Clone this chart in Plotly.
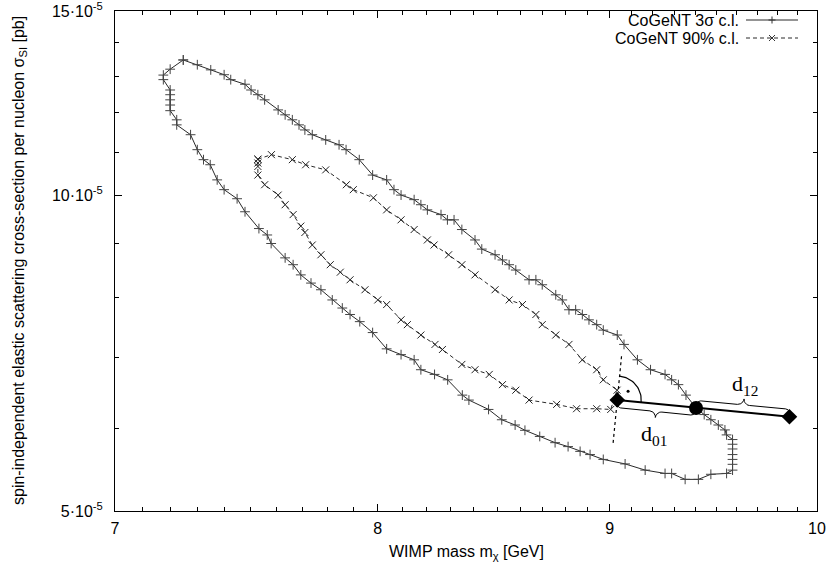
import numpy as np
import plotly.graph_objects as go

# ---------------- data (mass in GeV, sigma in units of 1e-5 pb) ----------------
mass_3sigma = [7.247, 7.299, 7.349, 7.399, 7.424, 7.478, 7.501, 7.527, 7.553, 7.605,
               7.632, 7.660, 7.686, 7.709, 7.738, 7.791, 7.844, 7.872, 7.925, 7.979,
               8.036, 8.066, 8.095, 8.149, 8.177, 8.204, 8.261, 8.288, 8.316, 8.349,
               8.405, 8.434, 8.491, 8.523, 8.552, 8.581, 8.639, 8.669, 8.697, 8.757,
               8.786, 8.816, 8.846, 8.876, 8.906, 8.941, 8.971, 9.035, 9.066, 9.128,
               9.189, 9.257, 9.288, 9.320, 9.356, 9.404, 9.443, 9.475, 9.511, 9.543,
               9.551, 9.580, 9.580, 9.580, 9.580, 9.580, 9.580, 9.580, 9.551, 9.475,
               9.415, 9.352, 9.288, 9.257, 9.164, 9.071, 8.971, 8.911, 8.866, 8.812,
               8.754, 8.686, 8.621, 8.578, 8.520, 8.463, 8.379, 8.351, 8.289, 8.234,
               8.177, 8.149, 8.095, 8.036, 7.979, 7.927, 7.888, 7.857, 7.817, 7.772,
               7.733, 7.693, 7.663, 7.632, 7.578, 7.563, 7.531, 7.478, 7.448, 7.399,
               7.373, 7.347, 7.322, 7.299, 7.274, 7.223, 7.223, 7.199, 7.199, 7.199,
               7.199, 7.199, 7.174, 7.174, 7.199, 7.247]
sigma_3sigma = [13.47, 13.33, 13.18, 13.04, 12.90, 12.77, 12.61, 12.48, 12.34, 12.07,
                11.94, 11.81, 11.68, 11.55, 11.43, 11.30, 11.18, 11.06, 10.82, 10.46,
                10.35, 10.13, 10.01, 9.91, 9.80, 9.69, 9.59, 9.48, 9.48, 9.28,
                9.07, 8.89, 8.78, 8.68, 8.59, 8.49, 8.31, 8.31, 8.22, 8.04,
                7.95, 7.78, 7.78, 7.70, 7.61, 7.53, 7.44, 7.36, 7.21, 6.97,
                6.82, 6.75, 6.67, 6.60, 6.45, 6.27, 6.18, 6.11, 6.04, 5.975,
                5.91, 5.85, 5.79, 5.73, 5.66, 5.60, 5.54, 5.47, 5.43, 5.42,
                5.36, 5.36, 5.43, 5.43, 5.47, 5.545, 5.60, 5.66, 5.70, 5.76,
                5.81, 5.89, 5.97, 6.04, 6.11, 6.25, 6.38, 6.45, 6.67, 6.75,
                6.82, 6.97, 7.05, 7.14, 7.40, 7.58, 7.70, 7.81, 7.95, 8.13,
                8.25, 8.40, 8.59, 8.72, 9.00, 9.17, 9.30, 9.65, 9.93, 10.13,
                10.35, 10.70, 10.82, 11.06, 11.43, 11.68, 11.81, 12.05, 12.20, 12.34,
                12.48, 12.61, 12.90, 13.03, 13.20, 13.47]

mass_90 = [7.527, 7.579, 7.660, 7.712, 7.791, 7.873, 7.901, 7.982, 8.036, 8.095,
           8.149, 8.204, 8.232, 8.293, 8.349, 8.405, 8.491, 8.552, 8.610, 8.669,
           8.697, 8.757, 8.816, 8.876, 8.941, 8.971, 9.034, 9.005, 8.941, 8.850,
           8.761, 8.639, 8.581, 8.523, 8.466, 8.405, 8.349, 8.267, 8.236, 8.177,
           8.121, 8.095, 8.036, 8.000, 7.948, 7.888, 7.849, 7.809, 7.772, 7.738,
           7.709, 7.693, 7.663, 7.632, 7.605, 7.553, 7.527, 7.527, 7.527, 7.527]
sigma_90 = [10.83, 10.94, 10.82, 10.70, 10.58, 10.24, 10.13, 9.95, 9.69, 9.48,
            9.28, 9.07, 8.97, 8.78, 8.59, 8.40, 8.13, 7.95, 7.87, 7.70,
            7.53, 7.36, 7.21, 6.97, 6.82, 6.67, 6.52, 6.25, 6.26, 6.26,
            6.32, 6.38, 6.52, 6.60, 6.75, 6.82, 6.90, 7.13, 7.21, 7.36,
            7.53, 7.61, 7.87, 7.95, 8.13, 8.31, 8.45, 8.59, 8.78, 8.97,
            9.22, 9.35, 9.59, 9.80, 10.01, 10.24, 10.46, 10.66, 10.74, 10.83]

# construction points: model 0 (diamond), intersection (circle), model 2 (diamond)
point_mass = [9.035, 9.404, 9.861]
point_sigma = [6.38, 6.27, 6.15]

x_ticks = [7, 8, 9, 10]
x_tick_labels = ["7", "8", "9", "10"]
x_minor = [7.1, 7.2, 7.3, 7.4, 7.5, 7.6, 7.7, 7.8, 7.9,
           8.1, 8.2, 8.3, 8.4, 8.5, 8.6, 8.7, 8.8, 8.9,
           9.1, 9.2, 9.3, 9.4, 9.5, 9.6, 9.7, 9.8, 9.9]
y_ticks_e5 = [5, 10, 15]
y_tick_labels = ["5·10<sup>-5</sup>", "10·10<sup>-5</sup>", "15·10<sup>-5</sup>"]
y_minor_e5 = [6, 7, 8, 9, 11, 12, 13, 14]

E5 = 1e-5

# ---------------- layout geometry ----------------
W, H = 829, 567
ML, MR, MT, MB = 115, 12, 11, 56
PW, PH = W - ML - MR, H - MT - MB
lx0, lx1 = np.log10(7), np.log10(10)
ly0, ly1 = np.log10(5 * E5), np.log10(15 * E5)


def to_px(x, y):
    u = ML + (np.log10(x) - lx0) / (lx1 - lx0) * PW
    v = MT + (ly1 - np.log10(y)) / (ly1 - ly0) * PH
    return np.array([u, v])


def from_px(p):
    u, v = p
    x = 10 ** (lx0 + (u - ML) / PW * (lx1 - lx0))
    y = 10 ** (ly1 - (v - MT) / PH * (ly1 - ly0))
    return x, y


def paper(u, v):
    return (u - ML) / PW, 1 - (v - MT) / PH


def brace(p1, p2, side, off=3.0, r1=4.5, r2=6.0):
    d = p2 - p1
    Lb = np.linalg.norm(d)
    t = d / Lb
    n = np.array([t[1], -t[0]]) * side
    th = np.linspace(0, np.pi / 2, 12)
    half = list(zip(r1 - r1 * np.cos(th), r1 * np.sin(th)))
    half += list(zip(Lb / 2 - r2 + r2 * np.sin(th), r1 + r2 - r2 * np.cos(th)))
    full = half + [(Lb - a, b) for (a, b) in reversed(half)]
    xs, ys = [], []
    for a, b in full:
        p = p1 + t * a + n * (off + b)
        x, y = from_px(p)
        xs.append(x)
        ys.append(y)
    return xs, ys


fig = go.Figure()

line_col = "#2a2a2a"
fig.add_trace(go.Scatter(
    x=mass_3sigma, y=[s * E5 for s in sigma_3sigma], mode="lines+markers",
    line=dict(color=line_col, width=1),
    marker=dict(symbol="cross-thin", size=7, line=dict(color="#444444", width=1)),
    showlegend=False, hoverinfo="skip"))
fig.add_trace(go.Scatter(
    x=mass_90, y=[s * E5 for s in sigma_90], mode="lines+markers",
    line=dict(color=line_col, width=1, dash="4px,3px"),
    marker=dict(symbol="x-thin", size=7, line=dict(color="#222222", width=1)),
    showlegend=False, hoverinfo="skip"))

# thick construction line
fig.add_trace(go.Scatter(
    x=[point_mass[0], point_mass[2]], y=[point_sigma[0] * E5, point_sigma[2] * E5],
    mode="lines", line=dict(color="black", width=2), showlegend=False, hoverinfo="skip"))

P0 = to_px(point_mass[0], point_sigma[0] * E5)
P1 = to_px(point_mass[1], point_sigma[1] * E5)
P2 = to_px(point_mass[2], point_sigma[2] * E5)
tdir = (P2 - P0) / np.linalg.norm(P2 - P0)
up = np.array([tdir[1], -tdir[0]])

# dotted perpendicular
qa, qb = from_px(P0 + up * 44), from_px(P0 - up * 46)
fig.add_trace(go.Scatter(x=[qa[0], qb[0]], y=[qa[1], qb[1]], mode="lines",
                         line=dict(color="black", width=1.2, dash="dot"),
                         showlegend=False, hoverinfo="skip"))

# right-angle arc and dot
a0 = np.arctan2(tdir[1], tdir[0])
phis = np.linspace(a0, a0 - np.pi / 2, 30)
arc = [from_px(P0 + 24 * np.array([np.cos(p), np.sin(p)])) for p in phis]
fig.add_trace(go.Scatter(x=[a[0] for a in arc], y=[a[1] for a in arc], mode="lines",
                         line=dict(color="black", width=1.2), showlegend=False, hoverinfo="skip"))
dp = from_px(P0 + 14 * np.array([np.cos(a0 - np.pi / 4), np.sin(a0 - np.pi / 4)]))
fig.add_trace(go.Scatter(x=[dp[0]], y=[dp[1]], mode="markers",
                         marker=dict(color="black", size=3), showlegend=False, hoverinfo="skip"))

# braces
bx, by = brace(P1, P2, +1)
fig.add_trace(go.Scatter(x=bx, y=by, mode="lines", line=dict(color="black", width=1),
                         showlegend=False, hoverinfo="skip"))
bx, by = brace(P0, P1, -1)
fig.add_trace(go.Scatter(x=bx, y=by, mode="lines", line=dict(color="black", width=1),
                         showlegend=False, hoverinfo="skip"))

# points
fig.add_trace(go.Scatter(
    x=[point_mass[0], point_mass[2]], y=[point_sigma[0] * E5, point_sigma[2] * E5],
    mode="markers", marker=dict(symbol="diamond", size=12, color="black"),
    showlegend=False, hoverinfo="skip"))
fig.add_trace(go.Scatter(
    x=[point_mass[1]], y=[point_sigma[1] * E5], mode="markers",
    marker=dict(symbol="circle", size=14, color="black"),
    showlegend=False, hoverinfo="skip"))

annotations = []
shapes = []

# brace labels
mid12 = (P1 + P2) / 2 + up * 28
mid01 = (P0 + P1) / 2 - up * 31
for pos, txt in [(mid12, "d<sub>12</sub>"), (mid01, "d<sub>01</sub>")]:
    xp, yp = paper(*pos)
    annotations.append(dict(x=xp, y=yp, xref="paper", yref="paper", text=txt,
                            showarrow=False, font=dict(family="Liberation Serif", size=22, color="black"),
                            xanchor="center", yanchor="middle"))

# legend (gnuplot style: text right, sample to the right)
font = dict(family="Liberation Sans, Arial", size=16, color="black")
for row, (label, dash, sym) in enumerate([("CoGeNT 3σ c.l.", "solid", "+"),
                                          ("CoGeNT 90% c.l.", "dash", "x")]):
    vy = 20 + row * 18
    tx, ty = paper(741, vy)
    annotations.append(dict(x=tx, y=ty, xref="paper", yref="paper", text=label,
                            showarrow=False, font=font, xanchor="right", yanchor="middle"))
    x0p, y0p = paper(746, vy)
    x1p, _ = paper(798, vy)
    shapes.append(dict(type="line", xref="paper", yref="paper", x0=x0p, x1=x1p, y0=y0p, y1=y0p,
                       line=dict(color=line_col, width=1, dash="4px,3px" if dash == "dash" else "solid")))
    cx = 772
    if sym == "+":
        segs = [((cx - 3.5, vy), (cx + 3.5, vy)), ((cx, vy - 3.5), (cx, vy + 3.5))]
    else:
        segs = [((cx - 3, vy - 3), (cx + 3, vy + 3)), ((cx - 3, vy + 3), (cx + 3, vy - 3))]
    for (u0, v0), (u1, v1) in segs:
        a0p, b0p = paper(u0, v0)
        a1p, b1p = paper(u1, v1)
        shapes.append(dict(type="line", xref="paper", yref="paper", x0=a0p, y0=b0p, x1=a1p, y1=b1p,
                           line=dict(color="#333333", width=1)))

# axis titles
xp, yp = paper(466, 552)
annotations.append(dict(x=xp, y=yp, xref="paper", yref="paper", text="WIMP mass m<sub>χ</sub> [GeV]",
                        showarrow=False, font=dict(family="Liberation Sans, Arial", size=16, color="black"),
                        xanchor="center", yanchor="middle"))
xp, yp = paper(19, 261)
annotations.append(dict(x=xp, y=yp, xref="paper", yref="paper", textangle=-90,
                        text="spin-independent elastic scattering cross-section per nucleon σ<sub>SI</sub> [pb]",
                        showarrow=False, font=dict(family="Liberation Sans, Arial", size=16, color="black"),
                        xanchor="center", yanchor="middle"))

axis_common = dict(type="log", showline=True, linecolor="black", linewidth=1, mirror="ticks",
                   ticks="inside", ticklen=7, tickcolor="black", tickwidth=1, showgrid=False,
                   zeroline=False, automargin=False, ticklabeloverflow="allow",
                   tickfont=dict(family="Liberation Sans, Arial", size=16, color="black"))

fig.update_layout(
    width=W, height=H, margin=dict(l=ML, r=MR, t=MT, b=MB, pad=0, autoexpand=False),
    plot_bgcolor="white", paper_bgcolor="white", showlegend=False, hovermode=False,
    xaxis=dict(range=[lx0, lx1], tickmode="array", tickvals=x_ticks, ticktext=x_tick_labels,
               ticklabelstandoff=3,
               minor=dict(tickmode="array", tickvals=x_minor, ticks="inside", ticklen=4,
                          tickcolor="black", showgrid=False),
               **axis_common),
    yaxis=dict(range=[ly0, ly1], tickmode="array", tickvals=[v * E5 for v in y_ticks_e5],
               ticktext=y_tick_labels, ticklabelstandoff=8,
               minor=dict(tickmode="array", tickvals=[v * E5 for v in y_minor_e5], ticks="inside",
                          ticklen=4, tickcolor="black", showgrid=False),
               **axis_common),
    annotations=annotations, shapes=shapes,
)

fig.write_html("out.html", config={"displayModeBar": False},
               post_script="document.body.style.margin='0px';document.body.style.overflow='hidden';")
